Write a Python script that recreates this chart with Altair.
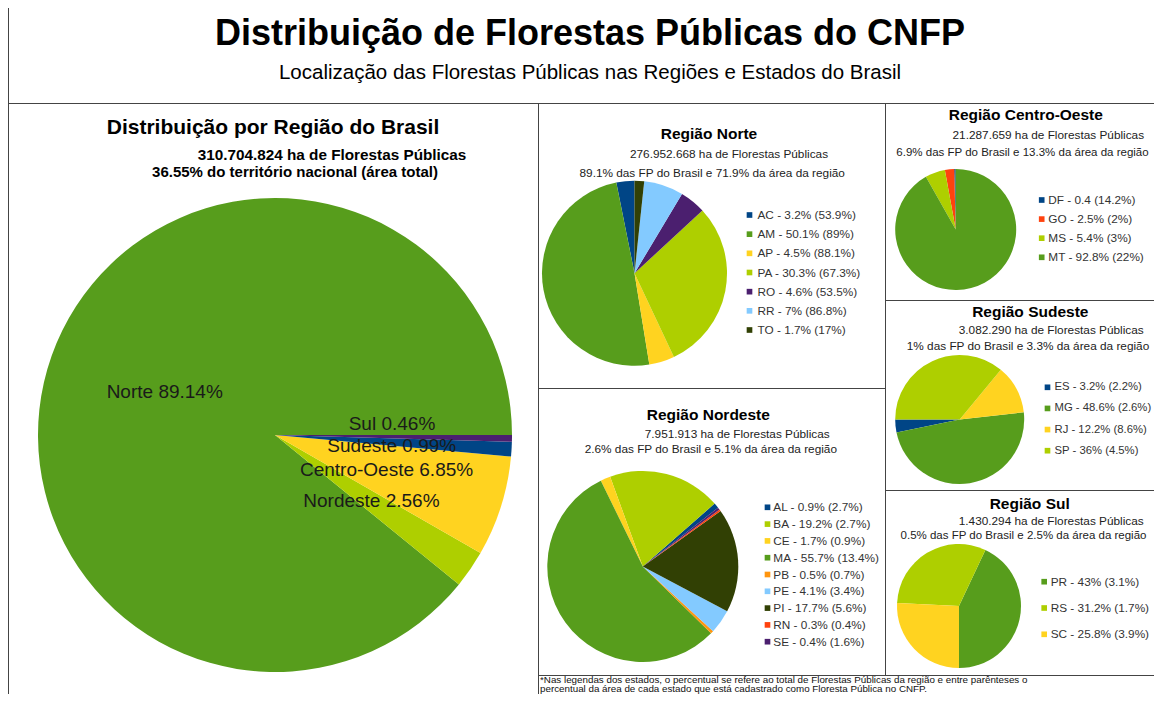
import math
import altair as alt
import pandas as pd

# ---------------- data ----------------
regions = ["Norte", "Nordeste", "Centro-Oeste", "Sudeste", "Sul"]
region_pct = [89.14, 2.56, 6.85, 0.99, 0.46]

norte_states = ["AC", "AM", "AP", "PA", "RO", "RR", "TO"]
norte_share = [3.2, 50.1, 4.5, 30.3, 4.6, 7.0, 1.7]
norte_labels = ["AC - 3.2% (53.9%)", "AM - 50.1% (89%)", "AP - 4.5% (88.1%)",
                "PA - 30.3% (67.3%)", "RO - 4.6% (53.5%)", "RR - 7% (86.8%)",
                "TO - 1.7% (17%)"]

co_states = ["DF", "GO", "MS", "MT"]
co_share = [0.4, 2.5, 5.4, 92.8]
co_labels = ["DF - 0.4 (14.2%)", "GO - 2.5% (2%)", "MS - 5.4% (3%)", "MT - 92.8% (22%)"]

se_states = ["ES", "MG", "RJ", "SP"]
se_share = [3.2, 48.6, 12.2, 36.0]
se_labels = ["ES - 3.2% (2.2%)", "MG - 48.6% (2.6%)", "RJ - 12.2% (8.6%)", "SP - 36% (4.5%)"]

ne_states = ["AL", "BA", "CE", "MA", "PB", "PE", "PI", "RN", "SE"]
ne_share = [0.9, 19.2, 1.7, 55.7, 0.5, 4.1, 17.7, 0.3, 0.4]
ne_labels = ["AL - 0.9% (2.7%)", "BA - 19.2% (2.7%)", "CE - 1.7% (0.9%)",
             "MA - 55.7% (13.4%)", "PB - 0.5% (0.7%)", "PE - 4.1% (3.4%)",
             "PI - 17.7% (5.6%)", "RN - 0.3% (0.4%)", "SE - 0.4% (1.6%)"]

sul_states = ["PR", "RS", "SC"]
sul_share = [43.0, 31.2, 25.8]
sul_labels = ["PR - 43% (3.1%)", "RS - 31.2% (1.7%)", "SC - 25.8% (3.9%)"]

main_title = "Distribuição de Florestas Públicas do CNFP"
main_sub = "Localização das Florestas Públicas nas Regiões e Estados do Brasil"
footnote1 = ("*Nas legendas dos estados, o percentual se refere ao total de Florestas "
             "Públicas da região e entre parênteses o")
footnote2 = "percentual da área de cada estado que está cadastrado como Floresta Pública no CNFP."

# ---------------- style ----------------
PAL = {"blue": "#004586", "red": "#ff420e", "yellow": "#ffd320", "green": "#579d1c",
       "lblue": "#83caff", "dgreen": "#314004", "lime": "#aecf00", "purple": "#4b1f6f",
       "orange": "#ff950e"}
region_colors = {"Norte": "green", "Nordeste": "lime", "Centro-Oeste": "yellow",
                 "Sudeste": "blue", "Sul": "purple"}
state_colors = {"AC": "blue", "AM": "green", "AP": "yellow", "PA": "lime", "RO": "purple",
                "RR": "lblue", "TO": "dgreen", "DF": "blue", "GO": "red", "MS": "lime",
                "MT": "green", "ES": "blue", "MG": "green", "RJ": "yellow", "SP": "lime",
                "AL": "blue", "BA": "lime", "CE": "yellow", "MA": "green", "PB": "orange",
                "PE": "lblue", "PI": "dgreen", "RN": "red", "SE": "purple", "PR": "green",
                "RS": "lime", "SC": "yellow"}

FONT = "Liberation Sans"
W, H = 1146, 686
OX, OY = 8, 8
LINE = "#444444"


def px(x):
    return x - OX


def py(y):
    return y - OY


layers = []


def pie_df(cats, vals, cmap):
    n = len(cats)
    return pd.DataFrame({"cat": cats, "val": vals,
                         "col": [PAL[cmap[c]] for c in cats],
                         "ord": list(range(n))[::-1]})


def theta_scale(vals, start_deg):
    a0 = math.radians(start_deg)
    return alt.Scale(domain=[0, float(sum(vals))], range=[a0, a0 + 2 * math.pi])


def pie(cats, vals, cmap, cx, cy, r, start_deg):
    df = pie_df(cats, vals, cmap)
    return alt.Chart(df).mark_arc(outerRadius=r).encode(
        x=alt.value(px(cx)), y=alt.value(py(cy)),
        theta=alt.Theta("val:Q", stack=True, scale=theta_scale(vals, start_deg)),
        color=alt.Color("col:N", scale=None),
        order=alt.Order("ord:Q"),
    )


def legend(labels, cats, cmap, sx, lx, y0, y1, size=11.8):
    df = pd.DataFrame({"lab": labels, "col": [PAL[cmap[c]] for c in cats]})
    ys = alt.Y("lab:N", sort=labels, axis=None,
               scale=alt.Scale(type="point", range=[py(y0), py(y1)], padding=0))
    sq = alt.Chart(df).mark_square(size=32, opacity=1).encode(
        x=alt.value(px(sx)), y=ys, color=alt.Color("col:N", scale=None))
    tx = alt.Chart(df).mark_text(align="left", baseline="middle", fontSize=size,
                                 font=FONT, color="#333333").encode(
        x=alt.value(px(lx)), y=ys, text="lab:N")
    return [sq, tx]


def txt(s, x, y, size, bold=False, align="center", color="#000000"):
    df = pd.DataFrame({"t": [s]})
    return alt.Chart(df).mark_text(align=align, baseline="middle", fontSize=size, font=FONT,
                                   fontWeight="bold" if bold else "normal",
                                   color=color).encode(
        x=alt.value(px(x)), y=alt.value(py(y)), text="t:N")


one = pd.DataFrame({"k": [0]})


def hline(x1, x2, y):
    return alt.Chart(one).mark_rule(color=LINE, strokeWidth=1).encode(
        x=alt.value(px(x1)), x2=alt.value(px(x2)), y=alt.value(py(y)))


def vline(x, y1, y2):
    return alt.Chart(one).mark_rule(color=LINE, strokeWidth=1).encode(
        x=alt.value(px(x)), y=alt.value(py(y1)), y2=alt.value(py(y2)))


# ---------------- main pie ----------------
MCX, MCY, MR = 275, 435, 237
main_df = pie_df(regions, region_pct, region_colors)
main_df["lab"] = [f"{r} {v:.2f}%" for r, v in zip(regions, region_pct)]
layers.append(pie(regions, region_pct, region_colors, MCX, MCY, MR, 90))

label_base = alt.Chart(main_df).transform_window(
    cum="sum(val)", sort=[alt.SortField("ord")], frame=[None, 0]
).transform_calculate(mid="datum.cum - datum.val / 2")


def main_labels(names, dy):
    return label_base.transform_filter(
        alt.FieldOneOfPredicate(field="cat", oneOf=names)
    ).mark_text(radius=117, fontSize=19, font=FONT, color="#1a1a1a",
                align="center", baseline="middle", dy=dy).encode(
        x=alt.value(px(MCX)), y=alt.value(py(MCY)),
        theta=alt.Theta("mid:Q", stack=False, scale=theta_scale(region_pct, 90)),
        text="lab:N")


layers.append(main_labels(["Norte"], -4))
layers.append(main_labels(["Nordeste", "Centro-Oeste"], 0))
layers.append(main_labels(["Sudeste"], 4))
layers.append(main_labels(["Sul"], -13))

# ---------------- regional pies ----------------
layers.append(pie(norte_states, norte_share, state_colors, 634.5, 273.3, 92.5, 0))
layers.append(pie(co_states, co_share, state_colors, 955.7, 229.5, 60.5, 0))
layers.append(pie(se_states, se_share, state_colors, 959.7, 419.5, 64.5, 270))
layers.append(pie(ne_states, ne_share, state_colors, 642.8, 566.5, 95.5, 52))
layers.append(pie(sul_states, sul_share, state_colors, 959, 606, 62, 180))

layers += legend(norte_labels, norte_states, state_colors, 749.5, 757.5, 215, 330)
layers += legend(co_labels, co_states, state_colors, 1041.7, 1048.3, 200, 257.3)
layers += legend(se_labels, se_states, state_colors, 1047.5, 1054.5, 387.3, 450.7, 11.3)
layers += legend(ne_labels, ne_states, state_colors, 767.5, 773.3, 507.3, 641.7)
layers += legend(sul_labels, sul_states, state_colors, 1044.2, 1050.7, 581.7, 634.3)

# ---------------- texts ----------------
layers.append(txt(main_title, 590, 34, 36, bold=True))
layers.append(txt(main_sub, 590, 73, 20.5))

layers.append(txt("Distribuição por Região do Brasil", 273, 127.5, 21, bold=True))
layers.append(txt("310.704.824 ha de Florestas Públicas", 332, 155, 15.3, bold=True))
layers.append(txt("36.55% do território nacional (área total)", 295, 172, 15, bold=True))

SUBC = "#222222"
layers.append(txt("Região Norte", 709, 134, 15.5, bold=True))
layers.append(txt("276.952.668 ha de Florestas Públicas", 729, 154.3, 11.8, color=SUBC))
layers.append(txt("89.1% das FP do Brasil e 71.9% da área da região", 712.2, 173.3, 11.8, color=SUBC))

layers.append(txt("Região Centro-Oeste", 1025.8, 115, 15.5, bold=True))
layers.append(txt("21.287.659 ha de Florestas Públicas", 1048.3, 135, 11.8, color=SUBC))
layers.append(txt("6.9% das FP do Brasil e 13.3% da área da região", 1022.5, 152.7, 11.5, color=SUBC))

layers.append(txt("Região Sudeste", 1030.3, 311.7, 15.5, bold=True))
layers.append(txt("3.082.290 ha de Florestas Públicas", 1051.2, 330, 11.8, color=SUBC))
layers.append(txt("1% das FP do Brasil e 3.3% da área da região", 1028, 346, 11.8, color=SUBC))

layers.append(txt("Região Nordeste", 708.3, 415, 15.5, bold=True))
layers.append(txt("7.951.913 ha de Florestas Públicas", 737.2, 434.3, 11.8, color=SUBC))
layers.append(txt("2.6% das FP do Brasil e 5.1% da área da região", 710.8, 449, 11.8, color=SUBC))

layers.append(txt("Região Sul", 1029.7, 504, 15.5, bold=True))
layers.append(txt("1.430.294 ha de Florestas Públicas", 1051.2, 521, 11.8, color=SUBC))
layers.append(txt("0.5% das FP do Brasil e 2.5% da área da região", 1023.5, 536, 11.5, color=SUBC))

layers.append(txt(footnote1, 540, 679.8, 9.8, align="left", color="#111111"))
layers.append(txt(footnote2, 540, 688.6, 9.8, align="left", color="#111111"))

# ---------------- frame lines ----------------
layers.append(vline(8.5, 8, 702))
layers.append(hline(8, 1162, 103.5))
layers.append(vline(538.5, 103.5, 702))
layers.append(vline(885.5, 103.5, 675.5))
layers.append(hline(538.5, 885.5, 388.5))
layers.append(hline(885.5, 1162, 300.5))
layers.append(hline(885.5, 1162, 490.5))
layers.append(hline(538.5, 1162, 675.5))

chart = alt.layer(*layers).resolve_scale(
    theta="independent", y="independent"
).properties(
    width=W, height=H, padding=0, autosize=alt.AutoSizeParams(type="none")
).configure_view(strokeWidth=0)

chart.save("out.html", embed_options={"renderer": "svg", "actions": False})
